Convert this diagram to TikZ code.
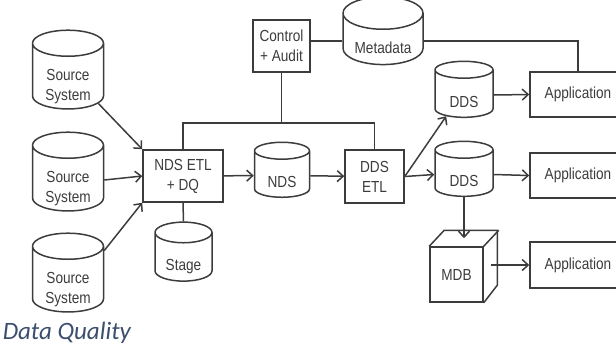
\documentclass[tikz,border=0pt]{standalone}
\usepackage{fontspec}
\setmainfont{Liberation Sans}[FakeStretch=0.85]
\newfontfamily\capfont{Carlito}
\usetikzlibrary{positioning,shapes.geometric,arrows.meta}
\definecolor{ink}{RGB}{60,60,60}
\definecolor{capblue}{RGB}{59,78,108}
% lower the text into the body of a cylinder
\newcommand{\dbtext}[1]{\raisebox{-8pt}[\height][\depth]{\begin{tabular}{@{}c@{}}#1\end{tabular}}}

\begin{document}
\begin{tikzpicture}[x=1pt,y=-1pt,
  every node/.style={draw=ink,line width=1.5pt,text=ink,font=\fontsize{16}{20}\selectfont,align=center,inner sep=1pt},
  box/.style={rectangle},
  db/.style={cylinder,shape border rotate=90,aspect=0.55},
  flow/.style={draw=ink,line width=1.5pt,-{Straight Barb[length=6pt,width=11pt]}},
  link/.style={draw=ink,line width=1.5pt}]
  \useasboundingbox (0,0) rectangle (616,349);
  % sources
  \node[db,minimum width=71pt,minimum height=74pt] (src1) at (68,78) {\dbtext{Source\\System}};
  \node[db,minimum width=71pt,minimum height=75pt] (src2) at (68,180) {\dbtext{Source\\System}};
  \node[db,minimum width=71pt,minimum height=75pt] (src3) at (68,281) {\dbtext{Source\\System}};
  % staging
  \node[box,minimum width=80pt,minimum height=52pt] (ndsetl) at (183,176) {NDS ETL\\+ DQ};
  \node[db,minimum width=57pt,minimum height=59pt] (stage) at (183.5,258.5) {\dbtext{Stage}};
  \node[db,minimum width=55pt,minimum height=55pt] (nds) at (282,175.5) {\dbtext{NDS}};
  \node[box,minimum width=57pt,minimum height=52pt] (ctrl) at (281.5,46) {Control\\+ Audit};
  \node[db,minimum width=80pt,minimum height=58pt] (meta) at (383,41) {\dbtext{Metadata}};
  \node[box,minimum width=59pt,minimum height=53pt] (ddsetl) at (374.5,176.5) {DDS\\ETL};
  % marts
  \node[db,minimum width=58pt,minimum height=56pt] (dds1) at (464,95) {\dbtext{DDS}};
  \node[db,minimum width=58pt,minimum height=55pt] (dds2) at (464,174.5) {\dbtext{DDS}};
  \node[box,minimum width=53pt,minimum height=55pt] (mdb) at (456.5,274.5) {MDB};
  \draw[link] (mdb.north west) -- ++(15,-16) -- ++(53,0) -- ++(0,55) -- (mdb.south east);
  \draw[link] (mdb.north east) -- ++(15,-16);
  \coordinate (mdbtop) at ([xshift=7.5pt,yshift=8pt]mdb.north);
  \coordinate (mdbside) at ([xshift=7.5pt]mdb.east);
  % applications
  \node[box,minimum width=96pt,minimum height=45pt] (app1) at (578,94.5) {Application};
  \node[box,minimum width=96pt,minimum height=45pt] (app2) at (578,175.5) {Application};
  \node[box,minimum width=96pt,minimum height=46pt] (app3) at (578,265) {Application};
  \node[draw=none,text=capblue,font=\capfont\itshape\fontsize{25}{28}\selectfont,anchor=base west,inner sep=0pt] (caption) at (2,339) {Data Quality};
  % connectors
  \draw[flow] (src1.-40) -- (ndsetl.north west);
  \draw[flow] (src2.east) -- (ndsetl.west);
  \draw[flow] (src3.40) -- (ndsetl.south west);
  \draw[link] (ndsetl.south) -- (stage.north);
  \draw[flow] (ndsetl) -- (nds);
  \draw[flow] (nds) -- (ddsetl);
  \coordinate (bus) at (281.5,123);
  \draw[link] (ndsetl.north) |- (bus) -| (ddsetl.north);
  \draw[link] (ctrl.south) -- (bus);
  \draw[link] (meta.west) -- (meta.west -| ctrl.east);
  \draw[link] (meta.east) -| (app1.north);
  \draw[flow] (ddsetl.east) -- (dds1.-130);
  \draw[flow] (ddsetl.east) -- (dds2.west);
  \draw[flow] (dds2.south) -- (mdbtop);
  \draw[flow] (dds1.east) -- (app1.west);
  \draw[flow] (dds2.east) -- (app2.west);
  \draw[flow] (mdbside |- app3.west) -- (app3.west);
\end{tikzpicture}
\end{document}
